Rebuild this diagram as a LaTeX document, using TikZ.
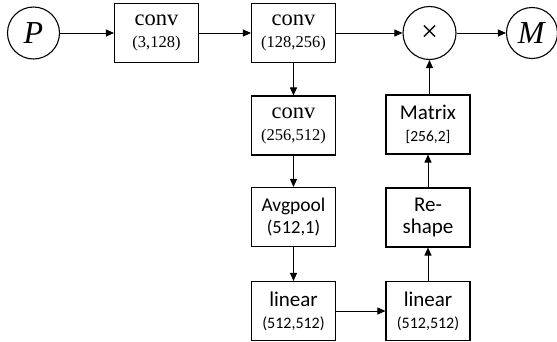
\documentclass[tikz,border=0pt]{standalone}
\usepackage{fontspec}
\setmainfont{Liberation Serif}
\newfontfamily\carlito{Carlito}
\usetikzlibrary{arrows.meta}
\tikzset{
  blk/.style={draw, line width=1.1pt, minimum width=84pt, minimum height=59pt, inner sep=0pt, align=center, font=\fontsize{16}{22}\selectfont},
  rnd/.style={draw, circle, line width=1.1pt, inner sep=0pt},
  conn/.style={line width=0.9pt, -{Triangle[length=8pt,width=7pt]}},
}
\newcommand{\serbig}{\fontsize{22.5}{22}\selectfont}
\newcommand{\sersmall}{\fontsize{16.5}{22}\selectfont}
\newcommand{\sanbig}{\carlito\fontsize{21}{22}\selectfont}
\newcommand{\sansmall}{\carlito\fontsize{16}{22}\selectfont}
\begin{document}
\begin{tikzpicture}[x=1pt,y=-1pt]
\useasboundingbox (0,0) rectangle (557,341);
\node[rnd, minimum size=52pt] (P) at (33.5,33) {\fontsize{32}{32}\selectfont\itshape P\/};
\node[blk] (c1) at (156.5,33) {\serbig conv\\\sersmall (3,128)};
\node[blk] (c2) at (293.5,33) {\serbig conv\\\sersmall (128,256)};
\node[blk] (c3) at (293.5,125.5) {\serbig conv\\\sersmall (256,512)};
\node[blk] (avg) at (293.5,217) {\carlito\fontsize{19.5}{22}\selectfont Avgpool\\\carlito\fontsize{18.5}{22}\selectfont (512,1)};
\node[blk] (l1) at (293.5,311) {\sanbig linear\\\sansmall (512,512)};
\node[blk] (l2) at (428,311) {\sanbig linear\\\sansmall (512,512)};
\node[blk] (rs) at (428,217.5) {\sanbig Re-\\\sanbig shape};
\node[blk] (mx) at (428,124.5) {\sanbig Matrix\\\carlito\fontsize{15.5}{22}\selectfont [256,2]};
\node[rnd, minimum size=53pt] (tm) at (429.5,33) {\fontsize{30}{30}\selectfont ×};
\node[rnd, minimum size=51pt] (M) at (532,33) {\fontsize{32}{32}\selectfont\itshape M\/};
\draw[conn] (P) -- (c1);
\draw[conn] (c1) -- (c2);
\draw[conn] (c2) -- (tm);
\draw[conn] (tm) -- (M);
\draw[conn] (c2) -- (c3);
\draw[conn] (c3) -- (avg);
\draw[conn] (avg) -- (l1);
\draw[conn] (l1) -- (l2);
\draw[conn] (l2) -- (rs);
\draw[conn] (rs) -- (mx);
\draw[conn] (mx.north -| tm.south) -- (tm.south);
\end{tikzpicture}
\end{document}
